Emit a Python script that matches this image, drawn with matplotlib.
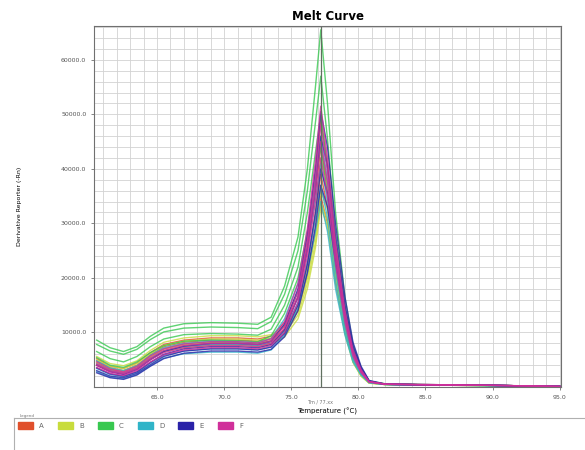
import numpy as np
import matplotlib.pyplot as plt
from matplotlib.patches import Rectangle
from matplotlib.lines import Line2D

# temperatures (deg C) at which the curves were read
temps = [60.5, 61.5, 62.5, 63.5, 64.5, 65.5, 67, 69, 71, 72.5, 73.5, 74.5, 75.5,
         76.2, 76.8, 77.2, 77.7, 78.3, 79, 79.6, 80.2, 80.8, 82, 85, 90, 95]

# derivative reporter values, in thousands, 4 wells per group
wellsA = [
    [5.2, 3.8, 3.4, 4.4, 6.3, 7.8, 8.6, 9.0, 9.0, 8.8, 9.3, 11.8, 17.5, 27.0, 39.0, 49.0, 41.0, 26.0, 13.5, 6.5, 3.0, 1.0, 0.55, 0.45, 0.3, 0.12],
    [4.8, 3.5, 3.0, 4.0, 5.9, 7.4, 8.2, 8.6, 8.6, 8.4, 8.9, 11.2, 16.5, 25.0, 35.5, 44.0, 37.0, 23.5, 12.3, 6.0, 2.8, 0.9, 0.5, 0.4, 0.3, 0.1],
    [4.4, 3.2, 2.7, 3.7, 5.5, 7.0, 7.8, 8.2, 8.2, 8.0, 8.5, 10.6, 15.0, 22.5, 31.5, 39.0, 33.0, 21.0, 11.0, 5.4, 2.5, 0.9, 0.5, 0.4, 0.3, 0.1],
    [4.0, 2.9, 2.4, 3.4, 5.1, 6.6, 7.4, 7.8, 7.8, 7.6, 8.1, 10.0, 14.0, 20.5, 28.5, 35.0, 30.0, 19.0, 10.0, 5.0, 2.3, 0.8, 0.45, 0.35, 0.25, 0.1],
]
wellsB = [
    [5.6, 4.3, 3.9, 4.8, 6.7, 8.2, 9.0, 9.4, 9.4, 9.2, 9.6, 11.0, 15.0, 22.0, 32.0, 42.0, 37.0, 24.0, 12.0, 5.5, 2.4, 0.8, 0.5, 0.4, 0.3, 0.1],
    [5.0, 3.8, 3.4, 4.3, 6.1, 7.6, 8.4, 8.8, 8.8, 8.6, 9.0, 10.4, 14.0, 20.0, 28.0, 36.0, 32.5, 21.5, 10.8, 5.0, 2.2, 0.8, 0.45, 0.35, 0.25, 0.1],
    [4.5, 3.4, 3.0, 3.9, 5.6, 7.0, 7.8, 8.2, 8.2, 8.0, 8.4, 9.8, 13.2, 19.0, 26.5, 34.0, 30.5, 20.0, 10.0, 4.6, 2.0, 0.7, 0.45, 0.35, 0.25, 0.1],
    [4.0, 3.0, 2.6, 3.5, 5.1, 6.5, 7.2, 7.6, 7.6, 7.4, 7.8, 9.2, 12.5, 18.0, 25.5, 33.0, 29.5, 19.5, 9.8, 4.5, 2.0, 0.7, 0.45, 0.35, 0.25, 0.1],
]
wellsC = [
    [8.6, 7.2, 6.5, 7.4, 9.3, 10.8, 11.6, 11.8, 11.7, 11.5, 12.8, 18.5, 27.5, 40.0, 55.0, 65.5, 52.0, 32.0, 16.5, 7.8, 3.6, 1.1, 0.6, 0.45, 0.3, 0.1],
    [7.8, 6.6, 6.0, 6.9, 8.7, 10.1, 10.8, 11.0, 10.9, 10.7, 12.0, 17.0, 25.0, 36.0, 48.5, 57.0, 45.5, 28.5, 14.8, 7.0, 3.2, 1.0, 0.55, 0.4, 0.3, 0.1],
    [6.5, 5.2, 4.6, 5.6, 7.4, 8.8, 9.6, 9.8, 9.7, 9.5, 10.6, 15.0, 22.0, 32.0, 43.0, 50.0, 40.0, 25.0, 13.0, 6.2, 2.9, 0.9, 0.5, 0.4, 0.25, 0.1],
    [5.4, 4.0, 3.6, 4.6, 6.3, 7.6, 8.4, 8.6, 8.5, 8.3, 9.4, 13.5, 20.0, 28.5, 38.0, 44.0, 35.5, 22.0, 11.5, 5.5, 2.5, 0.9, 0.5, 0.4, 0.25, 0.1],
]
wellsD = [
    [4.8, 3.5, 3.0, 3.9, 5.8, 7.2, 8.0, 8.4, 8.3, 8.1, 8.9, 12.5, 19.0, 28.0, 38.5, 46.0, 38.0, 24.0, 12.5, 6.0, 2.8, 0.9, 0.5, 0.4, 0.3, 0.1],
    [4.2, 3.0, 2.5, 3.4, 5.2, 6.6, 7.4, 7.8, 7.8, 7.6, 8.3, 11.5, 17.5, 25.5, 34.5, 41.0, 34.0, 21.5, 11.2, 5.4, 2.5, 0.9, 0.5, 0.4, 0.3, 0.1],
    [3.4, 2.3, 1.9, 2.7, 4.4, 5.8, 6.6, 7.0, 7.0, 6.8, 7.4, 10.2, 15.5, 23.0, 31.0, 37.0, 31.0, 19.5, 10.2, 5.0, 2.3, 0.8, 0.45, 0.35, 0.25, 0.1],
    [2.8, 1.8, 1.5, 2.3, 3.9, 5.3, 6.1, 6.4, 6.4, 6.2, 6.8, 9.5, 14.5, 21.0, 28.5, 34.0, 28.5, 18.0, 9.5, 4.6, 2.2, 0.8, 0.45, 0.35, 0.25, 0.1],
]
wellsE = [
    [4.0, 2.8, 2.3, 3.2, 5.0, 6.5, 7.5, 8.0, 8.0, 7.8, 8.4, 11.5, 18.0, 28.0, 40.0, 50.5, 44.0, 30.0, 16.5, 8.2, 3.8, 1.2, 0.55, 0.45, 0.3, 0.12],
    [3.5, 2.4, 2.0, 2.8, 4.5, 6.0, 7.0, 7.4, 7.4, 7.2, 7.8, 10.5, 16.5, 25.5, 36.5, 46.0, 40.5, 27.5, 15.0, 7.5, 3.5, 1.1, 0.5, 0.4, 0.3, 0.1],
    [3.0, 2.0, 1.7, 2.5, 4.1, 5.6, 6.6, 7.0, 7.0, 6.8, 7.3, 9.8, 15.0, 22.5, 32.0, 40.0, 35.5, 24.5, 13.5, 6.8, 3.2, 1.0, 0.5, 0.4, 0.3, 0.1],
    [2.6, 1.7, 1.4, 2.2, 3.8, 5.2, 6.2, 6.6, 6.6, 6.4, 6.9, 9.2, 14.0, 21.0, 29.5, 37.0, 33.0, 23.0, 12.8, 6.4, 3.0, 1.0, 0.5, 0.4, 0.3, 0.1],
]
wellsF = [
    [4.6, 3.3, 2.8, 3.8, 5.7, 7.0, 7.9, 8.3, 8.3, 8.1, 8.8, 12.0, 19.0, 29.0, 41.5, 51.5, 42.0, 26.5, 14.0, 6.8, 3.2, 1.0, 0.55, 0.45, 0.3, 0.12],
    [4.2, 3.0, 2.6, 3.5, 5.3, 6.7, 7.6, 8.0, 8.0, 7.8, 8.4, 11.2, 17.5, 27.0, 38.5, 48.0, 39.5, 25.0, 13.2, 6.4, 3.0, 1.0, 0.5, 0.4, 0.3, 0.1],
    [4.0, 2.8, 2.4, 3.3, 5.0, 6.3, 7.2, 7.6, 7.6, 7.4, 8.0, 10.8, 16.5, 25.5, 36.5, 45.0, 37.5, 24.0, 12.6, 6.0, 2.8, 0.9, 0.5, 0.4, 0.3, 0.1],
    [3.6, 2.5, 2.1, 3.0, 4.6, 5.9, 6.8, 7.2, 7.2, 7.0, 7.6, 10.0, 15.5, 24.0, 34.0, 42.0, 35.0, 22.5, 11.8, 5.6, 2.6, 0.9, 0.5, 0.4, 0.3, 0.1],
]

groups = ['A', 'B', 'C', 'D', 'E', 'F']
groupWells = [wellsA, wellsB, wellsC, wellsD, wellsE, wellsF]
groupColors = ['#e0502c', '#c8dc3c', '#38c850', '#30b4c8', '#2a22a8', '#d0309a']
tmCursor = 77.2

fig = plt.figure(figsize=(5.85, 4.5), dpi=100)
ax = fig.add_axes([94/585, 63/450, 467/585, 361/450])

for wells, col in zip(groupWells, groupColors):
    for w in wells:
        ax.plot(temps, np.array(w)*1000, color=col, lw=1.0, alpha=0.8)

ax.axvline(tmCursor, color='#607060', lw=0.9)

ax.set_xlim(60.3, 95.1)
ax.set_ylim(0, 66200)
ax.set_xticks(np.arange(65, 96, 5))
ax.set_xticklabels(['%.1f' % t for t in np.arange(65, 96, 5)])
ax.set_yticks(np.arange(10000, 60001, 10000))
ax.set_yticklabels(['%.1f' % v for v in np.arange(10000, 60001, 10000)])
ax.set_xticks(np.arange(61, 96, 1), minor=True)
ax.set_yticks(np.arange(2000, 66001, 2000), minor=True)
ax.grid(which='both', color='#d2d2d2', lw=0.6)
ax.set_axisbelow(True)
ax.tick_params(which='both', length=2, width=0.5, labelsize=4.5, colors='#555555')
ax.tick_params(which='minor', length=0)
for s in ax.spines.values():
    s.set_color('#707070')
    s.set_linewidth(0.8)

ax.set_title('Melt Curve', fontsize=8.5, fontweight='bold', pad=4)
ax.set_xlabel('Temperature (\u00b0C)', fontsize=5, labelpad=6)
ax.set_ylabel('Derivative Reporter (-Rn)', fontsize=4.5, labelpad=28)
fig.text(320/585, 1 - 402/450, 'Tm / 77.xx', fontsize=3.5, color='#777777', ha='center', va='center')

# legend strip at the bottom
fig.add_artist(Line2D([14/585, 1], [1 - 418/450, 1 - 418/450], color='#b0b0b0', lw=0.8))
fig.add_artist(Line2D([14/585, 14/585], [0, 1 - 418/450], color='#b0b0b0', lw=0.8))
fig.text(20/585, 1 - 416/450, 'Legend', fontsize=3, color='#777777', va='center')
for i, (g, col) in enumerate(zip(groups, groupColors)):
    x0 = 18 + i*40
    fig.add_artist(Rectangle((x0/585, 1 - 429/450), 15/585, 7/450, color=col))
    fig.text((x0 + 21)/585, 1 - 425.5/450, g, fontsize=5, color='#666666', va='center')

fig.savefig('out.png', dpi=100)
